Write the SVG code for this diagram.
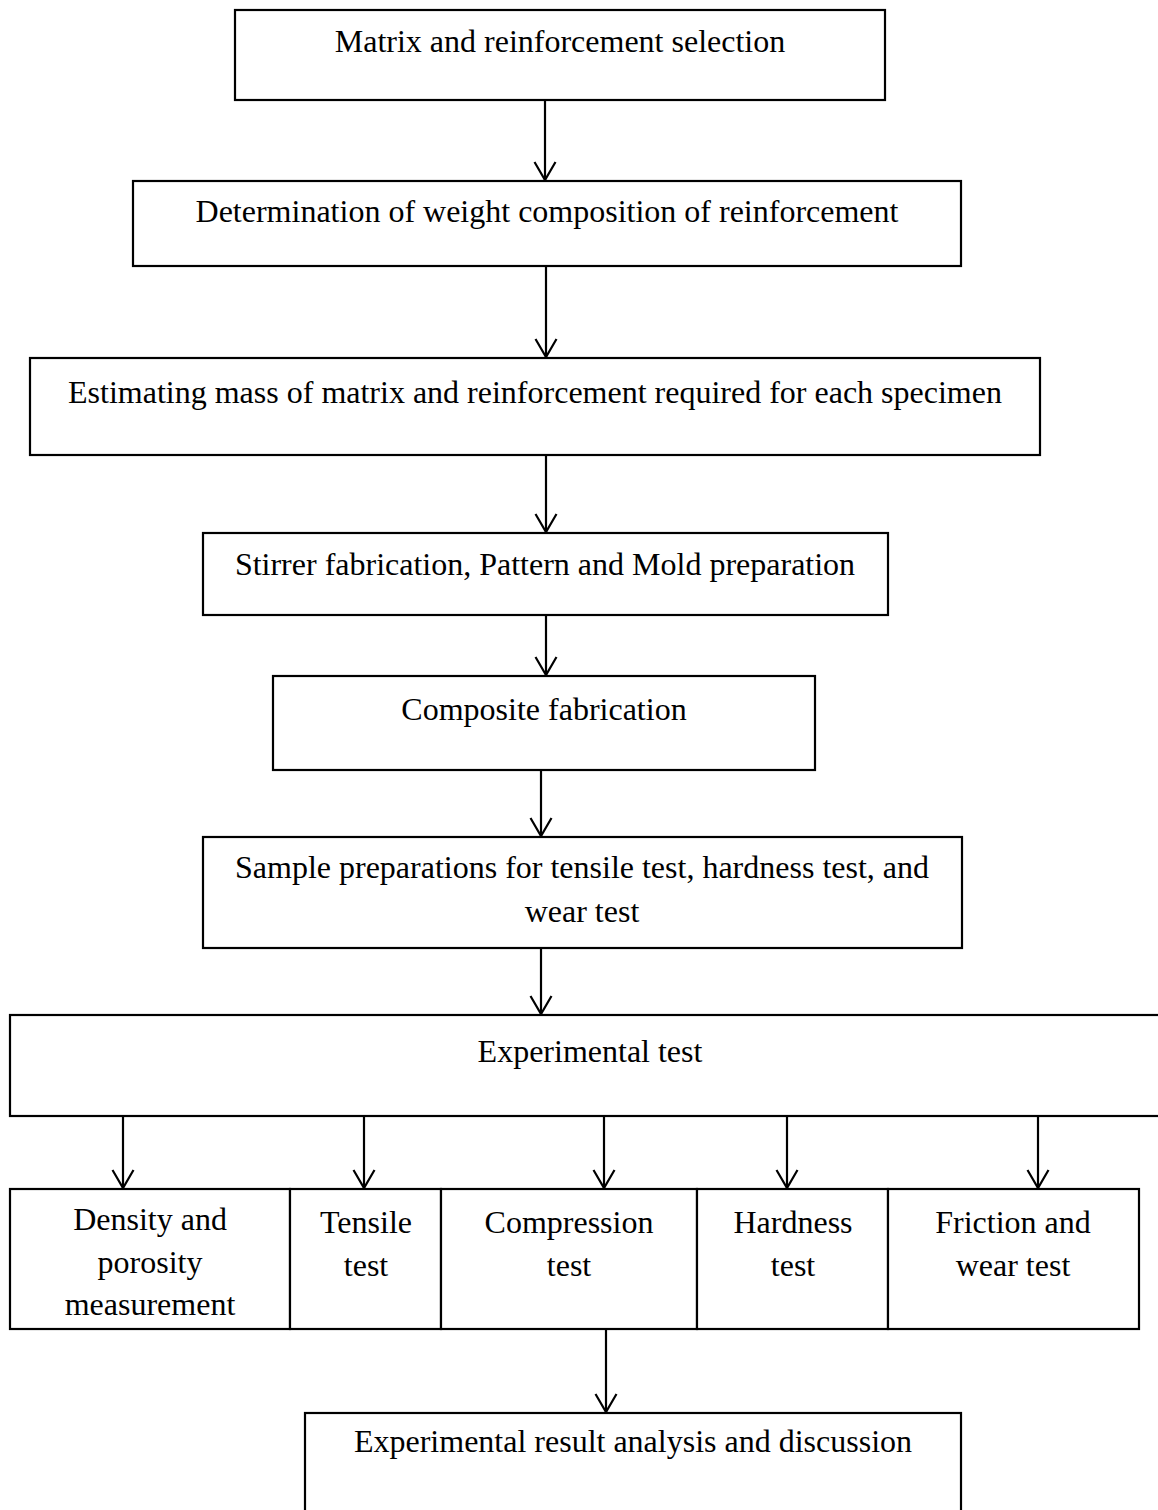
<svg xmlns="http://www.w3.org/2000/svg" width="1158" height="1510" viewBox="0 0 1158 1510">
  <style>
    .box { fill: #ffffff; stroke: #000000; stroke-width: 2.2; }
    .lbl { font-family: "Liberation Serif", "Times New Roman", serif; font-size: 32px; fill: #000000; text-anchor: middle; }
    .arrow { stroke: #000000; stroke-width: 2.2; fill: none; marker-end: url(#vhead); }
  </style>
  <defs>
    <!-- open V arrowhead -->
    <marker id="vhead" markerUnits="userSpaceOnUse" markerWidth="40" markerHeight="40" refX="0" refY="0" orient="auto" overflow="visible">
      <path d="M -18 -10.5 L 0 0 L -18 10.5" fill="none" stroke="#000000" stroke-width="2.2"/>
    </marker>
  </defs>
  <rect width="1158" height="1510" fill="#ffffff"/>

  <g id="connectors">
    <line class="arrow" x1="545" y1="100" x2="545" y2="180"/>
    <line class="arrow" x1="546" y1="266" x2="546" y2="357"/>
    <line class="arrow" x1="546" y1="455" x2="546" y2="532"/>
    <line class="arrow" x1="546" y1="615" x2="546" y2="675"/>
    <line class="arrow" x1="541" y1="770" x2="541" y2="836"/>
    <line class="arrow" x1="541" y1="948" x2="541" y2="1014"/>
    <line class="arrow" x1="123" y1="1116" x2="123" y2="1188"/>
    <line class="arrow" x1="364" y1="1116" x2="364" y2="1188"/>
    <line class="arrow" x1="604" y1="1116" x2="604" y2="1188"/>
    <line class="arrow" x1="787" y1="1116" x2="787" y2="1188"/>
    <line class="arrow" x1="1038" y1="1116" x2="1038" y2="1188"/>
    <line class="arrow" x1="606" y1="1329" x2="606" y2="1412"/>
  </g>

  <g id="n1">
    <rect class="box" x="235" y="10" width="650" height="90"/>
    <text class="lbl" x="560" y="52">Matrix and reinforcement selection</text>
  </g>
  <g id="n2">
    <rect class="box" x="133" y="181" width="828" height="85"/>
    <text class="lbl" x="547" y="222">Determination of weight composition of reinforcement</text>
  </g>
  <g id="n3">
    <rect class="box" x="30" y="358" width="1010" height="97"/>
    <text class="lbl" x="535" y="403">Estimating mass of matrix and reinforcement required for each specimen</text>
  </g>
  <g id="n4">
    <rect class="box" x="203" y="533" width="685" height="82"/>
    <text class="lbl" x="545" y="575">Stirrer fabrication, Pattern and Mold preparation</text>
  </g>
  <g id="n5">
    <rect class="box" x="273" y="676" width="542" height="94"/>
    <text class="lbl" x="544" y="720">Composite fabrication</text>
  </g>
  <g id="n6">
    <rect class="box" x="203" y="837" width="759" height="111"/>
    <text class="lbl" x="582" y="878">Sample preparations for tensile test, hardness test, and</text>
    <text class="lbl" x="582" y="922">wear test</text>
  </g>
  <g id="n7">
    <rect class="box" x="10" y="1015" width="1160" height="101"/>
    <text class="lbl" x="590" y="1062">Experimental test</text>
  </g>
  <g id="n8">
    <rect class="box" x="10" y="1189" width="280" height="140"/>
    <text class="lbl" x="150" y="1230">Density and</text>
    <text class="lbl" x="150" y="1273">porosity</text>
    <text class="lbl" x="150" y="1315">measurement</text>
  </g>
  <g id="n9">
    <rect class="box" x="290" y="1189" width="151" height="140"/>
    <text class="lbl" x="366" y="1233">Tensile</text>
    <text class="lbl" x="366" y="1276">test</text>
  </g>
  <g id="n10">
    <rect class="box" x="441" y="1189" width="256" height="140"/>
    <text class="lbl" x="569" y="1233">Compression</text>
    <text class="lbl" x="569" y="1276">test</text>
  </g>
  <g id="n11">
    <rect class="box" x="697" y="1189" width="191" height="140"/>
    <text class="lbl" x="793" y="1233">Hardness</text>
    <text class="lbl" x="793" y="1276">test</text>
  </g>
  <g id="n12">
    <rect class="box" x="888" y="1189" width="251" height="140"/>
    <text class="lbl" x="1013" y="1233">Friction and</text>
    <text class="lbl" x="1013" y="1276">wear test</text>
  </g>
  <g id="n13">
    <rect class="box" x="305" y="1413" width="656" height="110"/>
    <text class="lbl" x="633" y="1452">Experimental result analysis and discussion</text>
  </g>
</svg>
